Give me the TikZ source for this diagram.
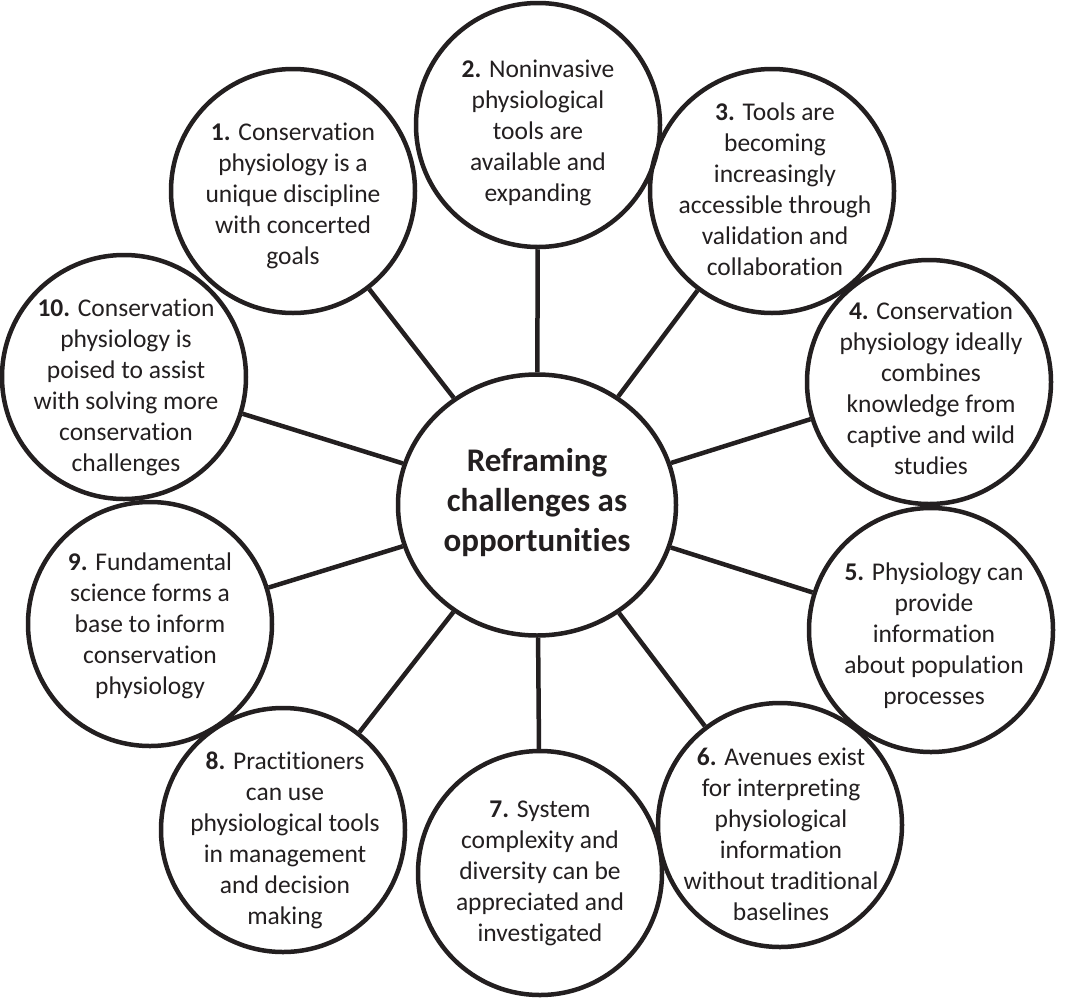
\documentclass[tikz,border=0pt]{standalone}
\usepackage{fontspec}
\setmainfont{Carlito}[Ligatures={NoCommon,NoDiscretionary}, RawFeature={-liga;-clig;-dlig}]
\usetikzlibrary{shapes.geometric}
\definecolor{ink}{HTML}{231F20}
\begin{document}
\begin{tikzpicture}[x=1pt,y=-1pt,
  bubble/.style={circle, draw=ink, line width=4.5pt, minimum size=244pt, inner sep=0pt},
  hub/.style={ellipse, draw=ink, line width=4.5pt, minimum width=278pt, minimum height=261pt, inner sep=0pt},
  txt/.style={align=center, text=ink, font=\fontsize{25.5}{31}\selectfont, inner sep=0pt},
  hubtxt/.style={align=center, text=ink, font=\fontsize{33}{40}\selectfont\bfseries, inner sep=0pt},
  link/.style={draw=ink, line width=4.5pt}]
\useasboundingbox (0,0) rectangle (1074,999);
\fill[white] (0,0) rectangle (1074,999);

\node[hub] (c0) at (537,505) {};
\node[bubble] (c1) at (293,191) {};
\node[bubble] (c2) at (538,125) {};
\node[bubble] (c3) at (772,191) {};
\node[bubble] (c4) at (929,382) {};
\node[bubble] (c5) at (931,630) {};
\node[bubble] (c6) at (780,825) {};
\node[bubble] (c7) at (540,873) {};
\node[bubble] (c8) at (283,830) {};
\node[bubble] (c9) at (150,624) {};
\node[bubble] (c10) at (124,377) {};

\foreach \i in {1,...,10} { \draw[link] (c0) -- (c\i); }

\node[hubtxt] (t0) at (537,503) {Reframing\\challenges as\\opportunities};
\node[txt] (t1) at (293,196) {\textbf{1.} Conservation\\physiology is a\\unique discipline\\with concerted\\goals};
\node[txt] (t2) at (538,133) {\textbf{2.} Noninvasive\\physiological\\tools are\\available and\\expanding};
\node[txt] (t3) at (775,189) {\textbf{3.} Tools are\\becoming\\increasingly\\accessible through\\validation and\\collaboration};
\node[txt] (t4) at (931,388) {\textbf{4.} Conservation\\physiology ideally\\combines\\knowledge from\\captive and wild\\studies};
\node[txt] (t5) at (934,636) {\textbf{5.} Physiology can\\provide\\information\\about population\\processes};
\node[txt] (t6) at (781,834) {\textbf{6.} Avenues exist\\for interpreting\\physiological\\information\\without traditional\\baselines};
\node[txt] (t7) at (540,873) {\textbf{7.} System\\complexity and\\diversity can be\\appreciated and\\investigated};
\node[txt] (t8) at (285,840) {\textbf{8.} Practitioners\\can use\\physiological tools\\in management\\and decision\\making};
\node[txt] (t9) at (150,626) {\textbf{9.} Fundamental\\science forms a\\base to inform\\conservation\\physiology};
\node[txt] (t10) at (126,387) {\textbf{10.} Conservation\\physiology is\\poised to assist\\with solving more\\conservation\\challenges};
\end{tikzpicture}
\end{document}
